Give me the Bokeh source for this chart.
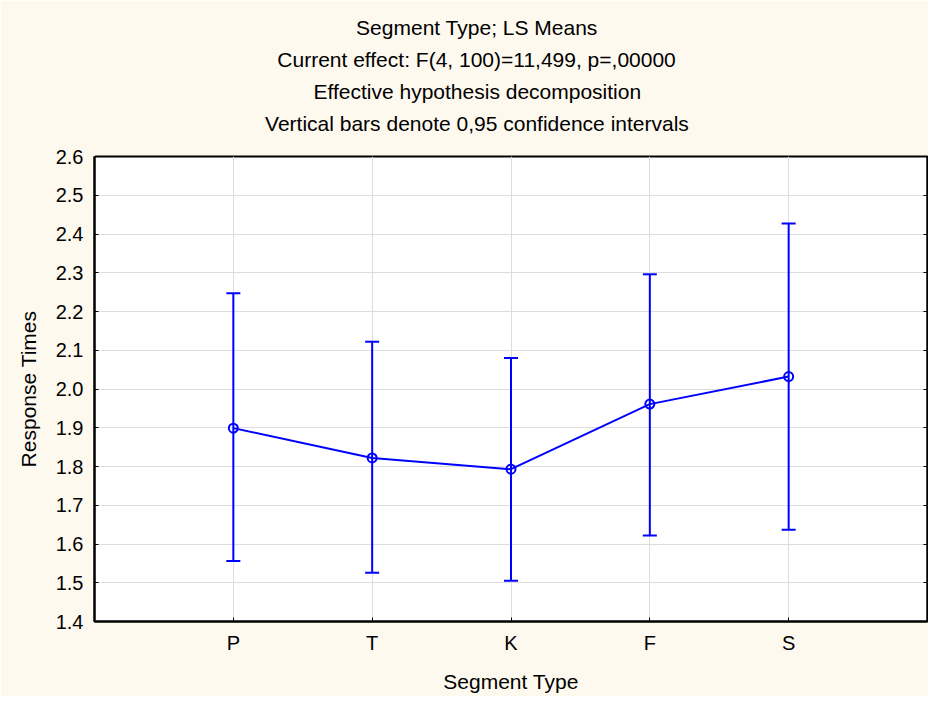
from bokeh.plotting import figure
from bokeh.models import (Range1d, FixedTicker, LinearAxis, Title, Whisker, TeeHead,
                          ColumnDataSource, PrintfTickFormatter)
from bokeh.embed import file_html
from bokeh.resources import INLINE

# ---- data ----
categories = ["P", "T", "K", "F", "S"]
cat_pos = [1, 2, 3, 4, 5]
means = [1.899, 1.822, 1.793, 1.961, 2.032]
ci_upper = [2.247, 2.122, 2.080, 2.296, 2.427]
ci_lower = [1.556, 1.526, 1.505, 1.622, 1.637]
y_ticks = [1.4, 1.5, 1.6, 1.7, 1.8, 1.9, 2.0, 2.1, 2.2, 2.3, 2.4, 2.5, 2.6]
title_lines = [
    "Segment Type; LS Means",
    "Current effect: F(4, 100)=11,499, p=,00000",
    "Effective hypothesis decomposition",
    "Vertical bars denote 0,95 confidence intervals",
]
x_label = "Segment Type"
y_label = "Response Times"

FONT = "Liberation Sans"
CREAM = "#FEF9EF"
BLUE = "#0000FF"
GRID = "#DDDDDD"

W, H = 928, 696
BL, BR, BT, BB = 94, 1, 156, 75
TITLE_PX = 21
TITLE_CENTER = 383          # title centre, px from the frame's left edge

# Arial / Liberation Sans advance widths (1/1000 em), used to centre the titles
_AW = {' ': 278, '(': 333, ')': 333, ',': 278, '.': 278, ':': 278, ';': 278, '=': 584,
       'A': 667, 'B': 667, 'C': 722, 'D': 722, 'E': 667, 'F': 611, 'G': 778, 'H': 722,
       'I': 278, 'J': 500, 'K': 667, 'L': 556, 'M': 833, 'N': 722, 'O': 778, 'P': 667,
       'Q': 778, 'R': 722, 'S': 667, 'T': 611, 'U': 722, 'V': 667, 'W': 944, 'X': 667,
       'Y': 667, 'Z': 611,
       'a': 556, 'b': 556, 'c': 500, 'd': 556, 'e': 556, 'f': 278, 'g': 556, 'h': 556,
       'i': 222, 'j': 222, 'k': 500, 'l': 222, 'm': 833, 'n': 556, 'o': 556, 'p': 556,
       'q': 556, 'r': 333, 's': 500, 't': 278, 'u': 556, 'v': 500, 'w': 722, 'x': 500,
       'y': 500, 'z': 500}
for d in "0123456789":
    _AW[d] = 556


def text_width(s, px):
    return sum(_AW.get(ch, 556) for ch in s) * px / 1000.0


src = ColumnDataSource(dict(x=cat_pos, mean=means, upper=ci_upper, lower=ci_lower))

p = figure(width=W, height=H, output_backend="svg", toolbar_location=None,
           x_range=Range1d(0, 6), y_range=Range1d(1.4, 2.6),
           x_axis_location=None, y_axis_location=None,
           min_border_left=BL, min_border_right=BR, min_border_top=BT, min_border_bottom=BB)
p.title = None
p.border_fill_color = CREAM
p.background_fill_color = "white"
p.outline_line_color = "black"
p.outline_line_width = 2

# spacer between the frame and the title block: an axis whose single tick
# (at the frame's left edge) is drawn in the background colour
spacer = LinearAxis(ticker=FixedTicker(ticks=[0]), axis_line_color=None,
                    major_tick_in=0, major_tick_out=18, major_tick_line_color=CREAM,
                    minor_tick_line_color=None, major_label_standoff=0,
                    major_label_text_font_size="0px", major_label_text_color=None)
p.add_layout(spacer, "above")

# title lines (innermost first)
for line in reversed(title_lines):
    off = TITLE_CENTER - text_width(line, TITLE_PX) / 2.0
    p.add_layout(Title(text=line, align="left", offset=off, vertical_align="bottom",
                       text_font=FONT, text_font_size=f"{TITLE_PX}px",
                       text_font_style="normal", text_color="black", standoff=6.5),
                 "above")

xt = FixedTicker(ticks=cat_pos)
yt = FixedTicker(ticks=y_ticks)

xaxis = LinearAxis(ticker=xt, axis_label=x_label)
xaxis.major_label_overrides = {pos: c for pos, c in zip(cat_pos, categories)}
yaxis = LinearAxis(ticker=yt, axis_label=y_label, formatter=PrintfTickFormatter(format="%.1f"))
raxis = LinearAxis(ticker=yt)

for ax in (xaxis, yaxis, raxis):
    ax.axis_line_color = "black"
    ax.axis_line_width = 2
    ax.major_tick_line_color = "black"
    ax.major_tick_line_width = 1
    ax.major_tick_in = 4
    ax.major_tick_out = 0
    ax.minor_tick_line_color = None
    ax.major_label_text_font = FONT
    ax.major_label_text_font_size = "20px"
    ax.major_label_text_color = "black"
    ax.axis_label_text_font = FONT
    ax.axis_label_text_font_size = "21px"
    ax.axis_label_text_font_style = "normal"
    ax.axis_label_text_color = "black"

xaxis.major_label_standoff = 10
xaxis.axis_label_standoff = 13
yaxis.major_label_standoff = 11
yaxis.axis_label_standoff = 13
raxis.major_label_text_font_size = "0px"
raxis.major_label_text_color = None
raxis.major_label_text_alpha = 0
raxis.major_label_standoff = 0

p.add_layout(xaxis, "below")
p.add_layout(yaxis, "left")
p.add_layout(raxis, "right")

p.xgrid.ticker = xt
p.ygrid.ticker = yt
p.xgrid.grid_line_color = GRID
p.ygrid.grid_line_color = GRID
p.xgrid.grid_line_width = 1
p.ygrid.grid_line_width = 1

p.line("x", "mean", source=src, line_color=BLUE, line_width=2)
whisk = Whisker(base="x", upper="upper", lower="lower", source=src,
                line_color=BLUE, line_width=2,
                upper_head=TeeHead(size=14, line_color=BLUE, line_width=2),
                lower_head=TeeHead(size=14, line_color=BLUE, line_width=2))
p.add_layout(whisk)
p.scatter("x", "mean", source=src, marker="circle", size=9,
          line_color=BLUE, line_width=2, fill_color=None)

open("out.html", "w").write(file_html(p, INLINE))
